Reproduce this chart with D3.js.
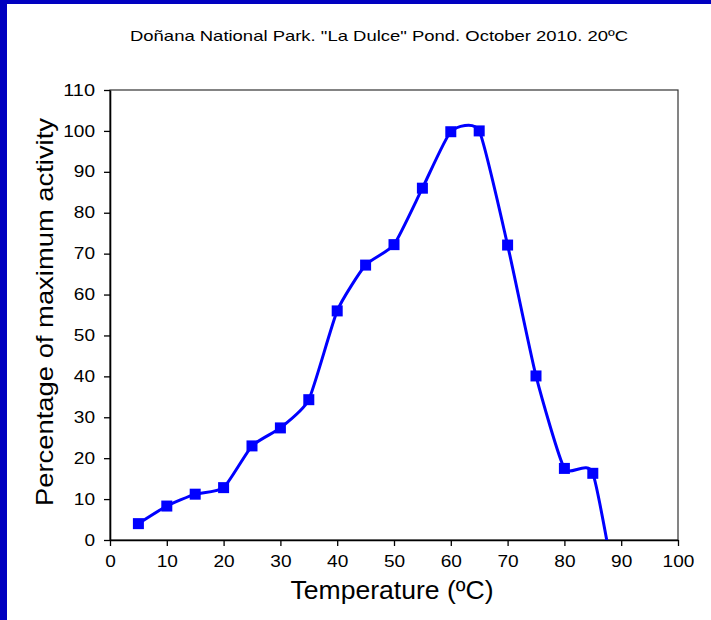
<!DOCTYPE html>
<html>
<head>
<meta charset="utf-8">
<script src="https://cdn.jsdelivr.net/npm/d3@7"></script>
<style>
    body { margin: 0; background: #fff; }
    text { font-family: "Liberation Sans", Arial, sans-serif; fill: #000; }
</style>
</head>
<body>
<div id="chart"></div>
<script>
//Chart values
var temperatures = [5, 10, 15, 20, 25, 30, 35, 40, 45, 50, 55, 60, 65, 70, 75, 80, 85, 90];
var activity = [4.0, 8.3, 11.2, 12.8, 23.0, 27.4, 34.3, 56.0, 67.2, 72.2, 86.0, 99.8, 100.0, 72.1, 40.1, 17.5, 16.3, -20];
var xTicks = [0, 10, 20, 30, 40, 50, 60, 70, 80, 90, 100];
var yTicks = [0, 10, 20, 30, 40, 50, 60, 70, 80, 90, 100, 110];

var titleText = "Doñana National Park. \"La Dulce\" Pond. October 2010. 20ºC";
var xLabelText = "Temperature (ºC)";
var yLabelText = "Percentage of maximum activity";

//SVG dimensions
var svgWidth = 711;
var svgHeight = 620;

var margin = {
    top: 90,
    right: 33,
    bottom: 80,
    left: 110
};

var width = svgWidth - margin.left - margin.right;
var height = svgHeight - margin.top - margin.bottom;

var svg = d3.select("#chart")
    .append("svg")
    .attr("width", svgWidth)
    .attr("height", svgHeight);

//Blue frame strips on left and top
svg.append("rect")
    .attr("x", 0).attr("y", 0)
    .attr("width", 7).attr("height", svgHeight)
    .attr("fill", "#0000C0");
svg.append("rect")
    .attr("x", 0).attr("y", 0)
    .attr("width", svgWidth).attr("height", 4)
    .attr("fill", "#0000C0");

//Title (stretched a bit wider like the original)
svg.append("text")
    .attr("x", 379)
    .attr("y", 41)
    .attr("text-anchor", "middle")
    .attr("textLength", 498)
    .attr("lengthAdjust", "spacingAndGlyphs")
    .style("font-size", "15px")
    .text(titleText);

var chartGroup = svg.append("g")
    .attr("transform", `translate(${margin.left}, ${margin.top})`);

//Scales
var xLinearScale = d3.scaleLinear()
    .domain([0, 100])
    .range([0, width]);

var yLinearScale = d3.scaleLinear()
    .domain([0, 110])
    .range([height, 0]);

//Plot frame
chartGroup.append("rect")
    .attr("x", 0).attr("y", 0)
    .attr("width", width).attr("height", height)
    .attr("fill", "none")
    .attr("stroke", "#333")
    .attr("stroke-width", 1.2);

//Axes
var bottomAxis = d3.axisBottom(xLinearScale)
    .tickValues(xTicks)
    .tickSize(6)
    .tickSizeOuter(0)
    .tickPadding(10);

var leftAxis = d3.axisLeft(yLinearScale)
    .tickValues(yTicks)
    .tickSize(6)
    .tickSizeOuter(0)
    .tickPadding(9);

var xAxis = chartGroup.append("g")
    .attr("transform", `translate(0, ${height})`)
    .call(bottomAxis);

var yAxis = chartGroup.append("g")
    .call(leftAxis);

[xAxis, yAxis].forEach(a => {
    a.select(".domain").attr("stroke", "#000").attr("stroke-width", 1.6);
    a.selectAll(".tick line").attr("stroke", "#000").attr("stroke-width", 1.3);
    a.selectAll(".tick text")
        .style("font-family", "'Liberation Sans', Arial, sans-serif")
        .style("font-size", "16px")
        .attr("fill", "#000")
        .attr("textLength", d => String(d).length * 10.6)
        .attr("lengthAdjust", "spacingAndGlyphs");
});

//Clip the series to the plot area
chartGroup.append("clipPath")
    .attr("id", "plotClip")
    .append("rect")
    .attr("x", 0).attr("y", 0)
    .attr("width", width).attr("height", height);

var points = temperatures.map((t, i) => ({temp: t, value: activity[i]}));

var line = d3.line()
    .x(d => xLinearScale(d.temp))
    .y(d => yLinearScale(d.value))
    .curve(d3.curveCardinal.tension(0.45));

var seriesGroup = chartGroup.append("g")
    .attr("clip-path", "url(#plotClip)");

seriesGroup.append("path")
    .datum(points)
    .attr("d", line)
    .attr("fill", "none")
    .attr("stroke", "#0000FF")
    .attr("stroke-width", 3);

var markerSize = 11;
seriesGroup.selectAll("rect.marker")
    .data(points)
    .enter()
    .append("rect")
    .attr("class", "marker")
    .attr("x", d => xLinearScale(d.temp) - markerSize / 2)
    .attr("y", d => yLinearScale(d.value) - markerSize / 2)
    .attr("width", markerSize)
    .attr("height", markerSize)
    .attr("fill", "#0000FF");

//Axis labels
svg.append("text")
    .attr("x", 392)
    .attr("y", 599)
    .attr("text-anchor", "middle")
    .attr("textLength", 203)
    .attr("lengthAdjust", "spacingAndGlyphs")
    .style("font-size", "25px")
    .text(xLabelText);

svg.append("text")
    .attr("transform", `translate(53, 312) rotate(-90)`)
    .attr("text-anchor", "middle")
    .attr("textLength", 388)
    .attr("lengthAdjust", "spacingAndGlyphs")
    .style("font-size", "24px")
    .text(yLabelText);
</script>
</body>
</html>
